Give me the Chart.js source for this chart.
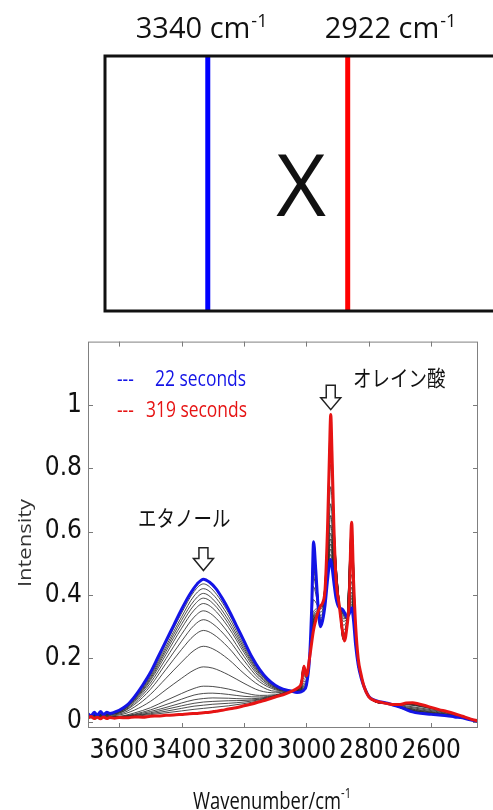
<!DOCTYPE html>
<html>
<head>
<meta charset="utf-8">
<script src="https://cdn.jsdelivr.net/npm/chart.js@4.4.1/dist/chart.umd.min.js"></script>
<style>
  html, body { margin: 0; padding: 0; background: #fff; }
  canvas { display: block; }
</style>
</head>
<body>
<canvas id="topPanel" width="493" height="320"></canvas>
<canvas id="spectra" width="493" height="490"></canvas>
<script>
"use strict";

// ---- top panel: two marker wavenumbers ----
const MARKER_WN = [3340, 2922];
const MARKER_LABELS = ["3340 cm", "2922 cm"];

// ---- spectra ----
const X_TICKS = [3600, 3400, 3200, 3000, 2800, 2600];
const Y_TICKS = [0, 0.2, 0.4, 0.6, 0.8, 1];

// fine grid used for the first (22 s) and last (319 s) spectra
const WN_FINE = [
  3700, 3690, 3680, 3670, 3660, 3650, 3640, 3630, 3615, 3600,
  3575, 3550, 3525, 3500, 3475, 3450, 3425, 3400, 3375, 3350,
  3330, 3310, 3290, 3270, 3250, 3225, 3200, 3175, 3150, 3125,
  3100, 3075, 3050, 3030, 3015, 3008, 3000, 2990, 2983, 2977,
  2970, 2963, 2955, 2948, 2940, 2932, 2926, 2922, 2918, 2912,
  2905, 2895, 2885, 2878, 2870, 2863, 2855, 2849, 2842, 2834,
  2825, 2815, 2800, 2780, 2760, 2740, 2720, 2700, 2680, 2660,
  2640, 2620, 2600, 2575, 2550, 2525, 2500, 2475, 2450
];
const SPEC_22S = [
  0.025, 0.018, 0.030, 0.020, 0.032, 0.022, 0.030, 0.026, 0.030, 0.036,
  0.052, 0.080, 0.115, 0.155, 0.205, 0.255, 0.305, 0.355, 0.400, 0.435,
  0.450, 0.440, 0.420, 0.390, 0.355, 0.305, 0.255, 0.205, 0.165, 0.135,
  0.115, 0.103, 0.097, 0.092, 0.095, 0.100, 0.115, 0.200, 0.360, 0.568,
  0.480, 0.370, 0.300, 0.320, 0.370, 0.450, 0.500, 0.512, 0.490, 0.440,
  0.390, 0.360, 0.355, 0.345, 0.330, 0.340, 0.360, 0.320, 0.240, 0.180,
  0.140, 0.110, 0.080, 0.067, 0.062, 0.058, 0.052, 0.046, 0.038, 0.031,
  0.027, 0.025, 0.023, 0.021, 0.019, 0.015, 0.012, 0.006, 0.001
];
const SPEC_319S = [
  0.012, 0.016, 0.010, 0.014, 0.009, 0.015, 0.010, 0.013, 0.011, 0.013,
  0.012, 0.015, 0.014, 0.017, 0.018, 0.020, 0.021, 0.023, 0.025, 0.026,
  0.028, 0.030, 0.033, 0.036, 0.040, 0.044, 0.050, 0.056, 0.063, 0.070,
  0.078, 0.085, 0.095, 0.105, 0.125, 0.175, 0.145, 0.200, 0.250, 0.290,
  0.320, 0.345, 0.365, 0.375, 0.420, 0.620, 0.850, 0.970, 0.850, 0.620,
  0.450, 0.370, 0.290, 0.255, 0.300, 0.380, 0.630, 0.450, 0.300, 0.200,
  0.150, 0.110, 0.078, 0.066, 0.061, 0.057, 0.054, 0.054, 0.059, 0.060,
  0.056, 0.051, 0.045, 0.038, 0.032, 0.025, 0.017, 0.009, 0.002
];

// coarser grid for the intermediate spectra (grey)
const WN_MID = [
  3700, 3600, 3550, 3500, 3450, 3400, 3360, 3330, 3300, 3250,
  3200, 3150, 3100, 3060, 3020, 3010, 3000, 2985, 2978, 2965,
  2955, 2945, 2935, 2922, 2910, 2895, 2882, 2870, 2855, 2840,
  2820, 2790, 2740, 2680, 2620, 2550, 2450
];
const MID_01 = [0.022, 0.034, 0.078, 0.150, 0.247, 0.343, 0.411, 0.435, 0.416, 0.344, 0.248, 0.161, 0.114, 0.100, 0.095, 0.101, 0.116, 0.298, 0.555, 0.417, 0.303, 0.332, 0.425, 0.528, 0.436, 0.370, 0.351, 0.330, 0.370, 0.221, 0.130, 0.071, 0.058, 0.037, 0.026, 0.019, 0.002];
const MID_02 = [0.021, 0.033, 0.075, 0.145, 0.238, 0.331, 0.397, 0.420, 0.402, 0.333, 0.240, 0.158, 0.112, 0.099, 0.095, 0.104, 0.117, 0.296, 0.546, 0.414, 0.305, 0.334, 0.429, 0.545, 0.442, 0.371, 0.348, 0.329, 0.379, 0.221, 0.130, 0.071, 0.058, 0.038, 0.027, 0.020, 0.002];
const MID_03 = [0.021, 0.033, 0.073, 0.140, 0.230, 0.320, 0.382, 0.405, 0.387, 0.321, 0.233, 0.154, 0.111, 0.099, 0.096, 0.106, 0.118, 0.294, 0.536, 0.411, 0.308, 0.336, 0.434, 0.561, 0.448, 0.371, 0.344, 0.329, 0.389, 0.222, 0.130, 0.071, 0.058, 0.038, 0.028, 0.020, 0.002];
const MID_04 = [0.021, 0.032, 0.071, 0.135, 0.222, 0.308, 0.368, 0.390, 0.374, 0.310, 0.226, 0.151, 0.110, 0.099, 0.096, 0.109, 0.119, 0.291, 0.526, 0.409, 0.310, 0.339, 0.438, 0.577, 0.454, 0.371, 0.341, 0.329, 0.398, 0.223, 0.130, 0.071, 0.058, 0.039, 0.029, 0.021, 0.002];
const MID_05 = [0.020, 0.031, 0.068, 0.130, 0.212, 0.295, 0.352, 0.373, 0.358, 0.298, 0.218, 0.146, 0.108, 0.099, 0.097, 0.112, 0.120, 0.289, 0.515, 0.405, 0.313, 0.341, 0.444, 0.595, 0.461, 0.372, 0.337, 0.328, 0.409, 0.224, 0.130, 0.070, 0.058, 0.040, 0.030, 0.021, 0.002];
const MID_06 = [0.020, 0.030, 0.065, 0.122, 0.199, 0.276, 0.330, 0.350, 0.336, 0.280, 0.206, 0.141, 0.106, 0.098, 0.098, 0.116, 0.122, 0.286, 0.500, 0.401, 0.317, 0.344, 0.451, 0.621, 0.470, 0.372, 0.331, 0.328, 0.424, 0.225, 0.130, 0.070, 0.058, 0.041, 0.031, 0.022, 0.002];
const MID_07 = [0.019, 0.028, 0.060, 0.113, 0.184, 0.254, 0.304, 0.322, 0.309, 0.260, 0.193, 0.134, 0.104, 0.098, 0.099, 0.121, 0.124, 0.282, 0.482, 0.396, 0.321, 0.348, 0.459, 0.651, 0.482, 0.373, 0.325, 0.327, 0.442, 0.226, 0.130, 0.070, 0.058, 0.043, 0.033, 0.023, 0.002];
const MID_08 = [0.018, 0.027, 0.055, 0.102, 0.165, 0.228, 0.272, 0.288, 0.277, 0.234, 0.176, 0.126, 0.101, 0.097, 0.100, 0.128, 0.127, 0.277, 0.459, 0.389, 0.327, 0.353, 0.470, 0.688, 0.495, 0.374, 0.317, 0.326, 0.464, 0.228, 0.130, 0.070, 0.058, 0.044, 0.035, 0.024, 0.002];
const MID_09 = [0.017, 0.024, 0.047, 0.086, 0.137, 0.188, 0.225, 0.238, 0.230, 0.197, 0.152, 0.114, 0.096, 0.096, 0.102, 0.137, 0.130, 0.270, 0.427, 0.380, 0.335, 0.360, 0.485, 0.742, 0.515, 0.375, 0.305, 0.325, 0.496, 0.230, 0.130, 0.070, 0.058, 0.047, 0.038, 0.026, 0.002];
const MID_10 = [0.015, 0.021, 0.037, 0.064, 0.101, 0.137, 0.163, 0.173, 0.169, 0.148, 0.121, 0.098, 0.091, 0.095, 0.104, 0.149, 0.135, 0.261, 0.385, 0.368, 0.346, 0.369, 0.505, 0.812, 0.542, 0.377, 0.289, 0.323, 0.537, 0.233, 0.130, 0.069, 0.058, 0.050, 0.041, 0.028, 0.002];
const MID_11 = [0.014, 0.017, 0.028, 0.044, 0.067, 0.089, 0.105, 0.112, 0.111, 0.103, 0.091, 0.083, 0.085, 0.094, 0.107, 0.160, 0.139, 0.252, 0.345, 0.356, 0.356, 0.378, 0.524, 0.879, 0.566, 0.378, 0.275, 0.322, 0.576, 0.236, 0.130, 0.069, 0.057, 0.054, 0.045, 0.029, 0.002];
const MID_12 = [0.013, 0.016, 0.024, 0.037, 0.054, 0.071, 0.084, 0.089, 0.090, 0.086, 0.080, 0.078, 0.083, 0.093, 0.108, 0.164, 0.141, 0.249, 0.330, 0.352, 0.360, 0.381, 0.531, 0.904, 0.575, 0.379, 0.270, 0.321, 0.591, 0.237, 0.130, 0.069, 0.057, 0.055, 0.046, 0.030, 0.002];
const MID_13 = [0.013, 0.015, 0.022, 0.032, 0.045, 0.059, 0.069, 0.073, 0.075, 0.074, 0.072, 0.074, 0.082, 0.093, 0.108, 0.167, 0.142, 0.246, 0.319, 0.349, 0.363, 0.384, 0.536, 0.921, 0.582, 0.379, 0.266, 0.321, 0.601, 0.238, 0.130, 0.069, 0.057, 0.056, 0.047, 0.031, 0.002];
const MID_14 = [0.013, 0.015, 0.020, 0.028, 0.039, 0.050, 0.058, 0.062, 0.064, 0.066, 0.067, 0.071, 0.081, 0.093, 0.109, 0.169, 0.143, 0.245, 0.312, 0.346, 0.364, 0.385, 0.539, 0.933, 0.586, 0.379, 0.263, 0.321, 0.608, 0.238, 0.130, 0.068, 0.057, 0.056, 0.048, 0.031, 0.002];
const MID_15 = [0.013, 0.014, 0.019, 0.025, 0.033, 0.042, 0.049, 0.052, 0.055, 0.058, 0.062, 0.069, 0.080, 0.092, 0.109, 0.171, 0.143, 0.243, 0.306, 0.345, 0.366, 0.387, 0.543, 0.944, 0.590, 0.379, 0.261, 0.321, 0.615, 0.239, 0.130, 0.068, 0.057, 0.057, 0.049, 0.031, 0.002];
const MID_16 = [0.012, 0.014, 0.017, 0.022, 0.028, 0.034, 0.039, 0.042, 0.045, 0.050, 0.057, 0.066, 0.079, 0.092, 0.109, 0.173, 0.144, 0.242, 0.299, 0.343, 0.368, 0.388, 0.546, 0.955, 0.594, 0.380, 0.258, 0.320, 0.621, 0.239, 0.130, 0.068, 0.057, 0.057, 0.049, 0.032, 0.002];
const MID_SPECTRA = [MID_01, MID_02, MID_03, MID_04, MID_05, MID_06, MID_07, MID_08,
  MID_09, MID_10, MID_11, MID_12, MID_13, MID_14, MID_15, MID_16];

const BLUE = "#1414e6";
const RED = "#e61414";
const SANS = "'Open Sans', 'Noto Sans', sans-serif";
const NARROW = "'Liberation Sans Narrow', 'DejaVu Sans Condensed', 'Liberation Sans', sans-serif";
const JP = "'Noto Sans CJK JP', sans-serif";

function zip(xs, ys) {
  return xs.map((x, i) => ({ x, y: ys[i] }));
}

// draw text, optionally squeezed horizontally (the bottom figure is condensed)
function drawText(ctx, str, x, y, font, color, align = "left", sx = 1) {
  ctx.save();
  ctx.font = font;
  ctx.fillStyle = color;
  ctx.textAlign = align;
  ctx.textBaseline = "alphabetic";
  ctx.translate(x, y);
  ctx.scale(sx, 1);
  ctx.fillText(str, 0, 0);
  const w = ctx.measureText(str).width * sx;
  ctx.restore();
  return w;
}

// ---------------- top panel ----------------
const topPlugin = {
  id: "topDecor",
  afterDraw(chart) {
    const { ctx, chartArea: a, scales } = chart;
    ctx.save();
    ctx.strokeStyle = "#111";
    ctx.lineWidth = 3;
    ctx.beginPath();
    ctx.moveTo(chart.width, a.top);
    ctx.lineTo(a.left, a.top);
    ctx.lineTo(a.left, a.bottom);
    ctx.lineTo(chart.width, a.bottom);
    ctx.stroke();
    ctx.restore();

    const offsets = [-72, -23];
    MARKER_WN.forEach((wn, i) => {
      const x0 = scales.x.getPixelForValue(wn) + offsets[i];
      const w = drawText(ctx, MARKER_LABELS[i], x0, 38, `29px ${SANS}`, "#111");
      drawText(ctx, "-1", x0 + w + 1, 27, `18px ${SANS}`, "#111");
    });
    drawText(ctx, "X", 301, 216, `86px ${SANS}`, "#111", "center");
  },
};

new Chart(document.getElementById("topPanel"), {
  type: "scatter",
  data: {
    datasets: MARKER_WN.map((wn, i) => ({
      data: [{ x: wn, y: 0 }, { x: wn, y: 1 }],
      showLine: true,
      borderColor: i === 0 ? "#0000ff" : "#ff0000",
      borderWidth: 5,
      pointRadius: 0,
    })),
  },
  options: {
    responsive: false,
    animation: false,
    layout: { padding: { left: 105, top: 56, right: 0, bottom: 9 } },
    scales: {
      x: { type: "linear", reverse: true, min: 2488, max: 3647, display: false },
      y: { min: 0, max: 1, display: false },
    },
    plugins: { legend: { display: false }, tooltip: { enabled: false } },
  },
  plugins: [topPlugin],
});

// ---------------- spectra ----------------
function drawHollowArrow(ctx, cx, top, tip) {
  const shaftW = 9, headW = 20, headH = 12;
  const yHead = tip - headH;
  ctx.save();
  ctx.beginPath();
  ctx.moveTo(cx - shaftW / 2, top);
  ctx.lineTo(cx + shaftW / 2, top);
  ctx.lineTo(cx + shaftW / 2, yHead);
  ctx.lineTo(cx + headW / 2, yHead);
  ctx.lineTo(cx, tip);
  ctx.lineTo(cx - headW / 2, yHead);
  ctx.lineTo(cx - shaftW / 2, yHead);
  ctx.closePath();
  ctx.fillStyle = "#fff";
  ctx.fill();
  ctx.strokeStyle = "#222";
  ctx.lineWidth = 1.5;
  ctx.stroke();
  ctx.restore();
}

const SQ = 0.83;

const spectraPlugin = {
  id: "spectraDecor",
  beforeDatasetsDraw(chart) {
    const { ctx, chartArea: a, scales: { x, y } } = chart;
    ctx.save();
    ctx.strokeStyle = "#7a7a7a";
    ctx.lineWidth = 1;
    ctx.beginPath();
    X_TICKS.forEach((v) => {
      const px = Math.round(x.getPixelForValue(v)) + 0.5;
      ctx.moveTo(px, a.bottom); ctx.lineTo(px, a.bottom - 5);
      ctx.moveTo(px, a.top); ctx.lineTo(px, a.top + 5);
    });
    Y_TICKS.forEach((v) => {
      const py = Math.round(y.getPixelForValue(v)) + 0.5;
      ctx.moveTo(a.left, py); ctx.lineTo(a.left + 5, py);
      ctx.moveTo(a.right, py); ctx.lineTo(a.right - 5, py);
    });
    ctx.stroke();
    ctx.restore();
  },
  afterDraw(chart) {
    const { ctx, chartArea: a, scales: { x, y } } = chart;
    ctx.save();
    ctx.strokeStyle = "#808080";
    ctx.lineWidth = 1;
    ctx.strokeRect(a.left + 0.5, a.top + 0.5, a.right - a.left - 1, a.bottom - a.top - 1);
    ctx.restore();

    // legend
    drawText(ctx, "---", 117, 66, `21px ${SANS}`, BLUE, "left", SQ);
    drawText(ctx, "22 seconds", 155, 66, `21px ${SANS}`, BLUE, "left", SQ);
    drawText(ctx, "---", 117, 97, `21px ${SANS}`, RED, "left", SQ);
    drawText(ctx, "319 seconds", 146, 97, `21px ${SANS}`, RED, "left", SQ);

    // band labels and arrows
    drawText(ctx, "オレイン酸", 353, 66, `22px ${JP}`, "#111", "left", 0.84);
    drawText(ctx, "エタノール", 138, 206, `22px ${JP}`, "#111", "left", 0.84);
    drawHollowArrow(ctx, x.getPixelForValue(2922), y.getPixelForValue(1.062), y.getPixelForValue(0.985));
    drawHollowArrow(ctx, x.getPixelForValue(3330), y.getPixelForValue(0.549), y.getPixelForValue(0.477));

    // axis titles
    ctx.save();
    ctx.translate(31, 223);
    ctx.rotate(-Math.PI / 2);
    ctx.scale(1, SQ);
    ctx.font = `22px ${SANS}`;
    ctx.fillStyle = "#333";
    ctx.textAlign = "center";
    ctx.textBaseline = "alphabetic";
    ctx.fillText("Intensity", 0, 0);
    ctx.restore();

    const w = drawText(ctx, "Wavenumber/cm", 193, 489, `23px ${SANS}`, "#111", "left", 0.8);
    drawText(ctx, "-1", 193 + w, 478, `14px ${SANS}`, "#111", "left", 0.8);
  },
};

const spectraDatasets = [
  {
    data: zip(WN_FINE, SPEC_319S),
    borderColor: RED,
    borderWidth: 3,
  },
  {
    data: zip(WN_FINE, SPEC_22S),
    borderColor: BLUE,
    borderWidth: 3,
  },
  ...MID_SPECTRA.map((ys) => ({
    data: zip(WN_MID, ys),
    borderColor: "rgba(45,45,45,0.85)",
    borderWidth: 1,
  })),
].map((d) => ({ ...d, showLine: true, pointRadius: 0, cubicInterpolationMode: "monotone" }));

new Chart(document.getElementById("spectra"), {
  type: "scatter",
  data: { datasets: spectraDatasets },
  options: {
    responsive: false,
    animation: false,
    layout: { padding: { left: 0, top: 20, right: 15, bottom: 0 } },
    scales: {
      x: {
        type: "linear",
        reverse: true,
        min: 2450,
        max: 3700,
        afterBuildTicks: (s) => { s.ticks = X_TICKS.map((v) => ({ value: v })); },
        afterFit: (s) => { s.height = 82; },
        grid: { display: false, drawTicks: false },
        border: { display: false },
        ticks: { font: { family: NARROW, size: 26 }, color: "#111", padding: 8, maxRotation: 0, autoSkip: false, callback: (v) => String(v) },
      },
      y: {
        min: -0.02,
        max: 1.2,
        afterBuildTicks: (s) => { s.ticks = Y_TICKS.map((v) => ({ value: v })); },
        afterFit: (s) => { s.width = 88; },
        grid: { display: false, drawTicks: false },
        border: { display: false },
        ticks: { font: { family: NARROW, size: 26 }, color: "#111", padding: 6, callback: (v) => String(v) },
      },
    },
    plugins: { legend: { display: false }, tooltip: { enabled: false } },
  },
  plugins: [spectraPlugin],
});
</script>
</body>
</html>
